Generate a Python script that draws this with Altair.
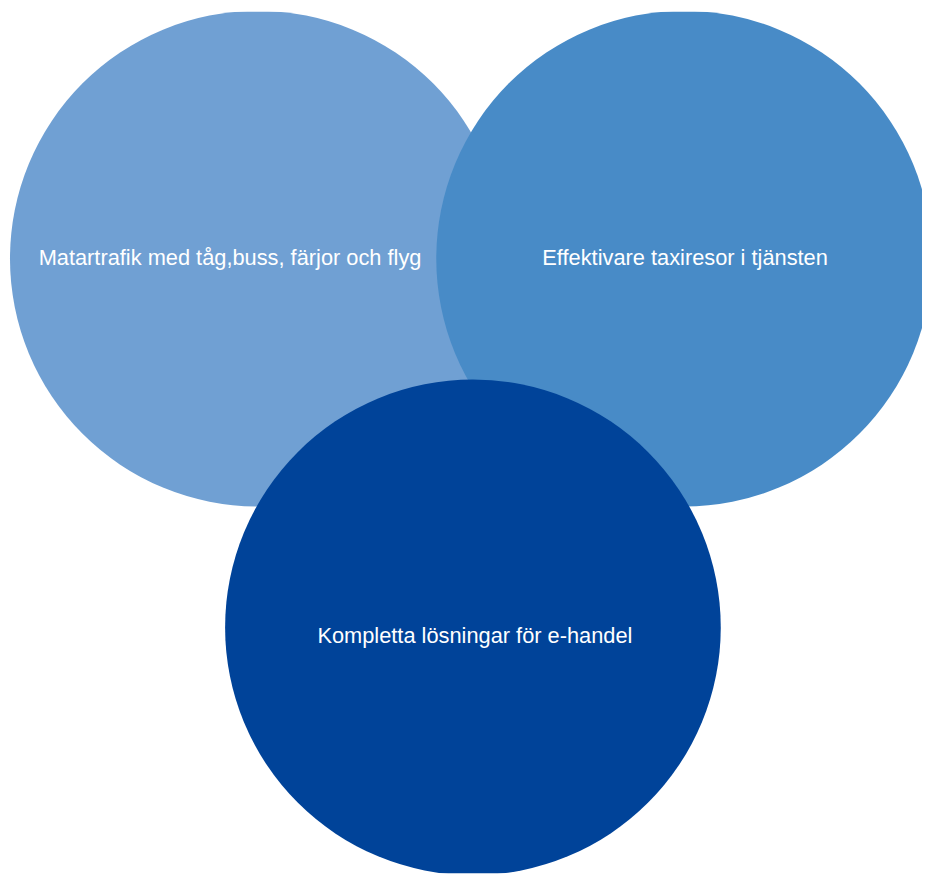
import altair as alt
import pandas as pd

labels = ["Matartrafik med tåg,buss, färjor och flyg",
          "Effektivare taxiresor i tjänsten",
          "Kompletta lösningar för e-handel"]
circle_x = [260, 690, 477]
circle_y = [257, 257, 629]
radius = [250, 250, 250]
label_x = [232, 691, 479]
label_y = [256, 256, 638]
colors = ["#70a0d3", "#488bc7", "#004399"]
order = [1, 2, 3]

df = pd.DataFrame({
    "label": labels, "cx": circle_x, "cy": circle_y, "r": radius,
    "lx": label_x, "ly": label_y, "color": colors, "order": order,
})
# Vega circle symbol: radius = sqrt(size) / 2
df["size"] = (2 * df["r"]) ** 2

xs = alt.Scale(domain=[8, 930], nice=False, zero=False)
ys = alt.Scale(domain=[8, 877], nice=False, zero=False, reverse=True)

circles = alt.Chart(df).mark_circle(opacity=1, clip=True).encode(
    x=alt.X("cx:Q", scale=xs, axis=None),
    y=alt.Y("cy:Q", scale=ys, axis=None),
    size=alt.Size("size:Q", scale=None, legend=None),
    color=alt.Color("color:N", scale=None, legend=None),
    order=alt.Order("order:Q"),
)

text = alt.Chart(df).mark_text(
    color="white", fontSize=22, font="Liberation Sans", align="center", baseline="middle"
).encode(
    x=alt.X("lx:Q", scale=xs, axis=None),
    y=alt.Y("ly:Q", scale=ys, axis=None),
    text="label:N",
)

chart = alt.layer(circles, text).properties(
    width=922, height=869, padding=0, autosize=alt.AutoSizeParams(type="none"),
    background="white",
).configure_view(stroke=None)

chart.save("out.html", embed_options={"renderer": "svg", "actions": False})
